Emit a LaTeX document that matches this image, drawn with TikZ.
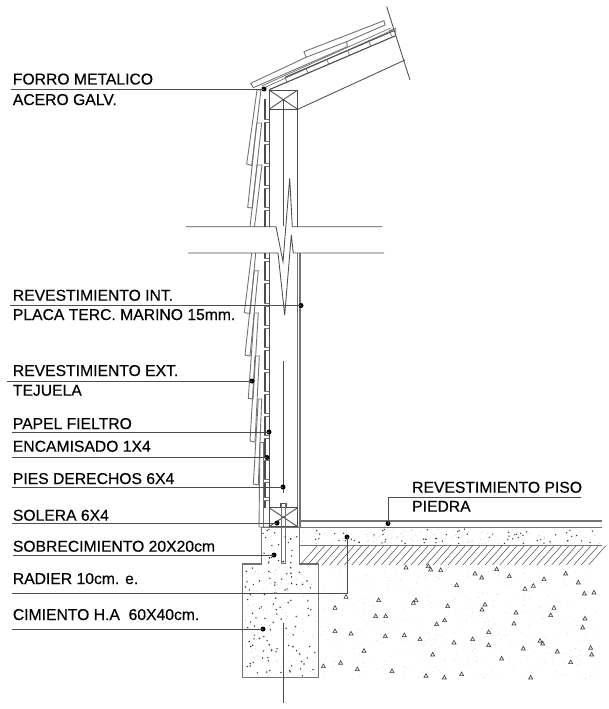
\documentclass[tikz,border=0pt]{standalone}
\usepackage{fontspec}
\setmainfont[FakeBold=0.35]{Liberation Sans}
\definecolor{ln}{gray}{0.30}
\definecolor{ln2}{gray}{0.45}
\tikzset{
  lbl/.style={anchor=base west,inner sep=0pt,font=\fontsize{15.7}{16}\selectfont,text=black},
  leader/.style={draw=ln,line width=0.85pt},
  dot/.style={circle,fill=black,inner sep=0pt,minimum size=5pt},
  wall/.style={draw=ln,line width=0.85pt},
  thin gray/.style={draw=ln2,line width=0.7pt},
  shingle/.style={draw=ln2,line width=0.9pt,line join=miter},
  body/.style={draw=ln2,line width=1.2pt},
  zoomA/.style={shift={(230,0)},x=0.3333pt,y=-0.3333pt},
  gravel/.style={draw=black!75,line width=0.65pt}
}
\begin{document}
\begin{tikzpicture}[x=1pt,y=-1pt]
\useasboundingbox (0,0) rectangle (609,709);
% --- roof
\begin{scope}[zoomA]
\draw[wall] (470,20)--(540,240);
\draw[wall] (203,328)--(525,180);
\draw[shingle] (228,172)--(62,250)--(70,263)--(352,140)--(350,125)--(228,172)--(222,155)--(462,62)--(465,75)--(350,125);
\draw[thin gray] (95,258)--(482,84);
\draw[thin gray] (103,263)--(488,90);
\draw[draw=ln,line width=1.1pt] (118,269)--(497,107);
\draw[draw=ln,line width=1pt] (165,232)--(492,92);
\foreach \a/\b in {165/232,228/205,290/178,352/150,415/120,478/92}
  \draw[thin gray] (\a,\b)--(\a+7,\b+16);
\draw[thin gray] (478,92)--(497,85)--(497,107);
\end{scope}
% --- top plate
\draw[wall] (269,90) rectangle (297.7,109.3);
\draw[wall] (269,90)--(297.7,109.3) (269,109.3)--(297.7,90);
% --- wall lines
\draw[wall] (269,109.3)--(269,226.7) (297.5,109.3)--(297.5,226.7);
\draw[wall] (283.4,100)--(283.4,226);
\draw[wall] (283.4,361)--(283.4,493);
\draw[wall] (269,253)--(269,508);
\draw[body] (297.5,253)--(297.5,508);
\draw[body] (300,253)--(300,527);
% --- sheathing
\draw[draw=ln,line width=2.2pt] (265.2,99)--(265.2,226.7) (265.2,253)--(265.2,508);
\foreach \y in {119,141,163,185,207}{\draw[draw=white,line width=2pt] (264,\y+1.5)--(268.5,\y+1.5); \draw[thin gray] (264,\y)--(269,\y) (264,\y+3)--(269,\y+3);}
\foreach \y in {258,280,303,325,347,369,391,413,435,457,479,497}{\draw[draw=white,line width=2pt] (264,\y+1.5)--(268.5,\y+1.5); \draw[thin gray] (264,\y)--(269,\y) (264,\y+3)--(269,\y+3);}
% --- shingles
\draw[shingle] (261,90)--(257,90)--(246.7,164)--(251.7,165.5)--(261,90);
\draw[shingle] (256.7,123)--(261.7,123)--(252.3,208)--(247.7,207.5)--cycle;
\draw[shingle] (250,226.7)--(257,165)--(262,165)--(254.5,226.7);
\draw[shingle] (251.7,253)--(244.3,312.7)--(250,313.5)--(255.7,253);
\draw[shingle] (254.3,270.7)--(258.3,270.7)--(250,356)--(245,355)--cycle;
\draw[shingle] (254.3,313)--(258.3,313)--(253,399)--(248.3,398.3)--cycle;
\draw[shingle] (255,356)--(259.3,356)--(255,442)--(250,441)--cycle;
\draw[shingle] (258.3,399)--(261.7,399)--(258.3,485)--(253.3,484)--cycle;
\draw[shingle] (260,442)--(263.3,442)--(263.3,527);
\draw[shingle] (260,442)--(259,527)--(300,527);
% --- break lines
\draw[wall] (186,226.7)--(276,226.7)--(283,261.7)--(289.7,178.3)--(292.3,226.7)--(382,226.7);
\draw[wall] (188,253)--(278,253)--(284.7,315)--(291.3,235)--(293.3,253)--(384,253);
% --- bottom plate and bolt
\draw[wall] (269,507.7) rectangle (297.7,526.7);
\draw[wall] (269,507.7)--(297.7,526.7) (269,526.7)--(297.7,507.7);
\draw[wall] (280,507.7)--(280,503)--(286,503)--(286,507.7);
\draw[thin gray] (281.7,503)--(281.7,563)--(285.7,563)--(285.7,503);
% --- foundation
\draw[body] (261.3,527.3)--(261.3,564)--(242.7,564)--(242.7,677.7)--(318.3,677.7)--(318.3,564)--(299.3,564)--(299.3,527.3);
\draw[wall] (283.4,623)--(283.4,703);
% --- floor
\draw[body] (300,521)--(601.7,521);
\draw[body] (261.3,527.3)--(601.7,527.3);
\draw[body] (299.3,545.7)--(601.7,545.7);
\foreach \x in {300,307.4,...,595}{\draw[draw=ln,line width=0.5pt] (\x,565)--(\x+17,546);}
% --- concrete specks
\pgfmathsetseed{7}
\foreach \i in {1,...,95}{\pgfmathsetmacro\px{245+71*rnd}\pgfmathsetmacro\py{566+110*rnd}\fill[black!80] (\px,\py) circle (0.8);}
\foreach \i in {1,...,24}{\pgfmathsetmacro\px{263+34*rnd}\pgfmathsetmacro\py{529+34*rnd}\fill[black!80] (\px,\py) circle (0.75);}
\foreach \i in {1,...,65}{\pgfmathsetmacro\px{302+298*rnd}\pgfmathsetmacro\py{529+15*rnd}\fill[black!80] (\px,\py) circle (0.75);}
\foreach \i in {1,...,130}{\pgfmathsetmacro\px{245+71*rnd}\pgfmathsetmacro\py{566+110*rnd}\fill[black!30] (\px,\py) circle (0.4);}
\foreach \i in {1,...,120}{\pgfmathsetmacro\px{302+298*rnd}\pgfmathsetmacro\py{529+15*rnd}\fill[black!30] (\px,\py) circle (0.4);}
\foreach \i in {1,...,420}{\pgfmathsetmacro\px{320+280*rnd}\pgfmathsetmacro\py{567+112*rnd}\fill[black!22] (\px,\py) circle (0.38);}
% --- gravel triangles
\begin{scope}[shift={(400,470)},x=0.3333pt,y=-0.3333pt]
\foreach \a/\b in {18/292,92/298,122/300,85/288,225/310,245/322,290/297,328/318,497/310,535/337,432/327,400/347,375/356,553/370,582/367,170/345,40/398,48/390,143/408,255/403,246/418,348/427,462/413,452/435,110/462,134/450,342/460,555/445,548/472,266/486,13/495,60/507,162/517,218/507,266/525,420/512,428/520,370/535,472/544,572/533,575/553,98/553,305/565,512/576,78/617,133/622,185/612,392/622}
  \draw[gravel] (\a-6,\b+5)--(\a+6,\b+5)--(\a,\b-6)--cycle;
\end{scope}
\begin{scope}[shift={(220,490)},x=0.3333pt,y=-0.3333pt]
\foreach \a/\b in {345/353,378/320,310/528,362/518,345/423,393/430,432/482,412/537,476/330,467/378,497/378,496/438,516/543}
  \draw[gravel] (\a-6,\b+5)--(\a+6,\b+5)--(\a,\b-6)--cycle;
\end{scope}
% --- labels
\node[lbl] (t1) at (12.7,84.5) {FORRO METALICO};
\node[lbl] (t1b) at (12.7,105) {ACERO GALV.};
\node[lbl] (t2) at (12.7,300.7) {REVESTIMIENTO INT.};
\node[lbl] (t2b) at (12.7,320) {PLACA TERC. MARINO 15mm.};
\node[lbl] (t3) at (12.7,376) {REVESTIMIENTO EXT.};
\node[lbl] (t3b) at (12.7,395.7) {TEJUELA};
\node[lbl] (t4) at (12.7,429) {PAPEL FIELTRO};
\node[lbl] (t5) at (12.7,451.7) {ENCAMISADO 1X4};
\node[lbl] (t6) at (12.7,484) {PIES DERECHOS 6X4};
\node[lbl] (t7) at (12.7,520.7) {SOLERA 6X4};
\node[lbl] (t8) at (12.7,551.7) {SOBRECIMIENTO 20X20cm};
\node[lbl] (t9) at (12.7,584) {RADIER 10cm. e.};
\node[lbl] (t10) at (12.7,620) {CIMIENTO H.A\ \ 60X40cm.};
\node[lbl] (t11) at (412,492.7) {REVESTIMIENTO PISO};
\node[lbl] (t11b) at (412,511.7) {PIEDRA};
% --- leaders
\node[dot] (d1) at (264,89) {};
\node[dot] (d2) at (301,305.5) {};
\node[dot] (d3) at (252,381) {};
\node[dot] (d4) at (269,432) {};
\node[dot] (d5) at (267,457.5) {};
\node[dot] (d6) at (283,487) {};
\node[dot] (d7) at (277,523) {};
\node[dot] (d8) at (274,555) {};
\node[dot] (d9) at (347,537) {};
\node[dot] (d10) at (263,629) {};
\node[dot] (d11) at (388,523.5) {};
\coordinate (s1) at (11,89);
\coordinate (s2) at (10,305.5);
\coordinate (s3) at (7,381);
\coordinate (s4) at (12,432);
\coordinate (s5) at (12,457.5);
\coordinate (s6) at (12,487);
\coordinate (s7) at (12,523);
\coordinate (s8) at (13,555);
\coordinate (s9) at (12,593);
\coordinate (c9) at (347,593);
\coordinate (s10) at (12,629);
\coordinate (s11) at (581,497);
\coordinate (c11) at (388,497);
\foreach \n in {1,2,3,4,5,6,7,8,10}{\draw[leader] (s\n)--(d\n.center);}
\draw[leader] (s9)--(c9)--(d9.center);
\draw[leader] (s11)--(c11)--(d11.center);
\end{tikzpicture}
\end{document}
